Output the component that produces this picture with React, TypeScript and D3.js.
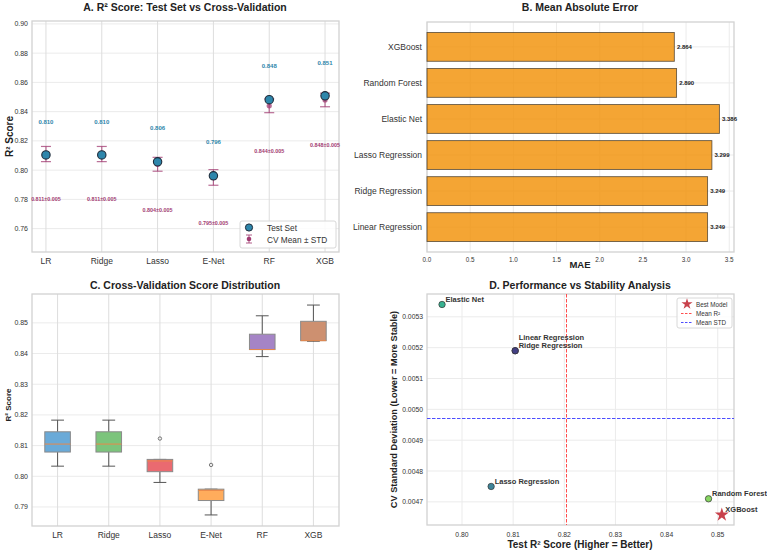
import * as d3 from "d3";

const W = 767;
const H = 551;
const FONT = "'Liberation Sans', Arial, sans-serif";

// model metrics
const models = [
  "Linear Regression",
  "Ridge Regression",
  "Lasso Regression",
  "Elastic Net",
  "Random Forest",
  "XGBoost",
];
const shortNames = ["LR", "Ridge", "Lasso", "E-Net", "RF", "XGB"];
const testR2 = [0.8104, 0.8104, 0.8057, 0.7961, 0.8482, 0.8508];
const cvMean = [0.811, 0.811, 0.804, 0.795, 0.844, 0.848];
const cvStd = [0.00519, 0.00519, 0.00475, 0.00534, 0.00471, 0.004658];
const mae = [3.249, 3.249, 3.299, 3.386, 2.89, 2.864];

// per-fold CV scores (5 folds)
const foldsLR = [0.8033, 0.8079, 0.8105, 0.8145, 0.8183];
const foldsRidge = [0.8033, 0.8079, 0.8105, 0.8145, 0.8183];
const foldsLasso = [0.798, 0.8015, 0.805, 0.8055, 0.8123];
const foldsENet = [0.7874, 0.7921, 0.7954, 0.7958, 0.8037];
const foldsRF = [0.839, 0.8413, 0.8413, 0.8463, 0.8523];
const foldsXGB = [0.844, 0.8442, 0.8442, 0.8505, 0.8558];
const cvFolds = [foldsLR, foldsRidge, foldsLasso, foldsENet, foldsRF, foldsXGB];

const boxColors = ["#6aaad8", "#7cc47c", "#ea6a70", "#ffac5c", "#a584c6", "#cd9070"];

const r2Ticks = d3.range(8).map((i) => 0.76 + i * 0.02);
const maeTicks = d3.range(8).map((i) => i * 0.5);
const boxTicks = d3.range(7).map((i) => 0.79 + i * 0.01);
const stdTicks = d3.range(7).map((i) => 0.0047 + i * 0.0001);
const scatterXTicks = d3.range(6).map((i) => 0.8 + i * 0.01);

const BLUE = "#2E86AB";
const MAGENTA = "#A23B72";
const GRID = "#ebebeb";
const GRID_V = "#dddddd";
const SPINE = "#d2d2d2";
const TICK = "#333";
const RED_LINE = "#ff4d4d";
const BLUE_LINE = "#4d4dff";

type Box = { x0: number; x1: number; y0: number; y1: number };

const Frame = ({ b }: { b: Box }) => (
  <rect x={b.x0} y={b.y0} width={b.x1 - b.x0} height={b.y1 - b.y0} fill="none" stroke={SPINE} strokeWidth={1.3} />
);

const Title = ({ x, y, text }: { x: number; y: number; text: string }) => (
  <text x={x} y={y} textAnchor="middle" fontSize={10.5} fontWeight="bold" fill="#222" dominantBaseline="central">
    {text}
  </text>
);

// ---------- A: test R² vs CV ----------
const PanelA = () => {
  const b: Box = { x0: 32, x1: 339, y0: 21, y1: 252 };
  const x = d3.scaleLinear().domain([-0.25, 5.25]).range([b.x0, b.x1]);
  const y = d3.scaleLinear().domain([0.744, 0.902]).range([b.y1, b.y0]);
  return (
    <g>
      <Title x={185} y={7} text="A. R² Score: Test Set vs Cross-Validation" />
      {r2Ticks.map((t) => (
        <g key={t}>
          <line x1={b.x0} x2={b.x1} y1={y(t)} y2={y(t)} stroke={GRID} />
          <text x={b.x0 - 4} y={y(t)} textAnchor="end" dominantBaseline="central" fontSize={7} fill={TICK}>
            {t.toFixed(2)}
          </text>
        </g>
      ))}
      {shortNames.map((s, i) => (
        <g key={s}>
          <line x1={x(i)} x2={x(i)} y1={b.y0} y2={b.y1} stroke={GRID_V} />
          <text x={x(i)} y={b.y1 + 9} textAnchor="middle" dominantBaseline="central" fontSize={8.5} fill={TICK}>
            {s}
          </text>
        </g>
      ))}
      <Frame b={b} />
      <text
        transform={`translate(9,${(b.y0 + b.y1) / 2}) rotate(-90)`}
        textAnchor="middle"
        dominantBaseline="central"
        fontSize={10}
        fontWeight="bold"
        fill="#222"
      >
        R² Score
      </text>
      {/* CV mean ± std */}
      {cvMean.map((m, i) => {
        const lo = y(m - cvStd[i]);
        const hi = y(m + cvStd[i]);
        return (
          <g key={"cv" + i} stroke={MAGENTA} strokeOpacity={0.75} strokeWidth={1.2}>
            <line x1={x(i)} x2={x(i)} y1={lo} y2={hi} />
            <line x1={x(i) - 5} x2={x(i) + 5} y1={lo} y2={lo} />
            <line x1={x(i) - 5} x2={x(i) + 5} y1={hi} y2={hi} />
            <circle cx={x(i)} cy={y(m)} r={2.6} fill={MAGENTA} fillOpacity={0.75} stroke="none" />
          </g>
        );
      })}
      {testR2.map((v, i) => (
        <circle key={"t" + i} cx={x(i)} cy={y(v)} r={4.2} fill={BLUE} stroke="#1d2b3a" strokeWidth={1.1} />
      ))}
      {testR2.map((v, i) => (
        <text
          key={"tl" + i}
          x={x(i)}
          y={y(v + 0.0228)}
          textAnchor="middle"
          dominantBaseline="central"
          fontSize={6}
          fontWeight="bold"
          fill={BLUE}
        >
          {v.toFixed(3)}
        </text>
      ))}
      {cvMean.map((m, i) => (
        <text
          key={"cl" + i}
          x={x(i)}
          y={y(m - 0.031)}
          textAnchor="middle"
          dominantBaseline="central"
          fontSize={5.4}
          fontWeight="bold"
          fill={MAGENTA}
        >
          {`${m.toFixed(3)}±${cvStd[i].toFixed(3)}`}
        </text>
      ))}
      {/* legend */}
      <g>
        <rect x={240} y={221} width={96} height={27} rx={2} fill="white" fillOpacity={0.85} stroke="#d8d8d8" />
        <circle cx={249} cy={227.5} r={3.6} fill={BLUE} stroke="#1d2b3a" strokeWidth={1} />
        <text x={267} y={227.5} dominantBaseline="central" fontSize={8.3} fill={TICK}>
          Test Set
        </text>
        <g stroke={MAGENTA} strokeOpacity={0.75} strokeWidth={1.1}>
          <line x1={249} x2={249} y1={235} y2={243} />
          <line x1={246} x2={252} y1={235} y2={235} />
          <line x1={246} x2={252} y1={243} y2={243} />
          <circle cx={249} cy={239} r={2.3} fill={MAGENTA} stroke="none" />
        </g>
        <text x={267} y={239.5} dominantBaseline="central" fontSize={8.3} fill={TICK}>
          CV Mean ± STD
        </text>
      </g>
    </g>
  );
};

// ---------- B: MAE bars ----------
const PanelB = () => {
  const b: Box = { x0: 427, x1: 734, y0: 22, y1: 252 };
  const x = d3.scaleLinear().domain([0, 3.555]).range([b.x0, b.x1]);
  const y = d3.scaleLinear().domain([-0.69, 5.69]).range([b.y1, b.y0]);
  const half = 0.4;
  return (
    <g>
      <Title x={580} y={7} text="B. Mean Absolute Error" />
      {maeTicks.map((t) => (
        <g key={t}>
          <line x1={x(t)} x2={x(t)} y1={b.y0} y2={b.y1} stroke={GRID} />
          <text x={x(t)} y={b.y1 + 7} textAnchor="middle" dominantBaseline="central" fontSize={6.3} fill={TICK}>
            {t.toFixed(1)}
          </text>
        </g>
      ))}
      {models.map((m, i) => (
        <g key={m}>
          <line x1={b.x0} x2={b.x1} y1={y(i)} y2={y(i)} stroke={GRID} />
          <text x={b.x0 - 5} y={y(i)} textAnchor="end" dominantBaseline="central" fontSize={8.5} fill={TICK}>
            {m}
          </text>
        </g>
      ))}
      <Frame b={b} />
      {mae.map((v, i) => (
        <g key={"b" + i}>
          <rect
            x={x(0)}
            y={y(i + half)}
            width={x(v) - x(0)}
            height={y(i - half) - y(i + half)}
            fill="#F18F01"
            fillOpacity={0.8}
            stroke="#3a3226"
            strokeOpacity={0.75}
            strokeWidth={0.9}
          />
          <text x={x(v + 0.03)} y={y(i)} dominantBaseline="central" fontSize={6} fontWeight="bold" fill="#222">
            {v.toFixed(3)}
          </text>
        </g>
      ))}
      <text x={580} y={264} textAnchor="middle" dominantBaseline="central" fontSize={9.5} fontWeight="bold" fill="#222">
        MAE
      </text>
    </g>
  );
};

// ---------- C: CV box plots ----------
const boxStats = (vals: number[]) => {
  const s = [...vals].sort(d3.ascending);
  const q1 = d3.quantile(s, 0.25) as number;
  const med = d3.quantile(s, 0.5) as number;
  const q3 = d3.quantile(s, 0.75) as number;
  const iqr = q3 - q1;
  const inside = s.filter((v) => v >= q1 - 1.5 * iqr - 1e-12 && v <= q3 + 1.5 * iqr + 1e-12);
  return {
    q1,
    med,
    q3,
    lo: d3.min(inside) as number,
    hi: d3.max(inside) as number,
    outliers: s.filter((v) => !inside.includes(v)),
  };
};

const PanelC = () => {
  const b: Box = { x0: 32, x1: 339, y0: 294, y1: 526 };
  const x = d3.scaleLinear().domain([0.5, 6.5]).range([b.x0, b.x1]);
  const y = d3.scaleLinear().domain([0.7838, 0.8594]).range([b.y1, b.y0]);
  const bw = 0.25;
  const cw = 0.125;
  return (
    <g>
      <Title x={185} y={285} text="C. Cross-Validation Score Distribution" />
      {boxTicks.map((t) => (
        <g key={t}>
          <line x1={b.x0} x2={b.x1} y1={y(t)} y2={y(t)} stroke={GRID} />
          <text x={b.x0 - 4} y={y(t)} textAnchor="end" dominantBaseline="central" fontSize={7} fill={TICK}>
            {t.toFixed(2)}
          </text>
        </g>
      ))}
      {shortNames.map((s, i) => (
        <g key={s}>
          <line x1={x(i + 1)} x2={x(i + 1)} y1={b.y0} y2={b.y1} stroke={GRID_V} />
          <text x={x(i + 1)} y={b.y1 + 9} textAnchor="middle" dominantBaseline="central" fontSize={8.5} fill={TICK}>
            {s}
          </text>
        </g>
      ))}
      <Frame b={b} />
      <text
        transform={`translate(8,${(b.y0 + b.y1) / 2 - 5}) rotate(-90)`}
        textAnchor="middle"
        dominantBaseline="central"
        fontSize={8}
        fontWeight="bold"
        fill="#222"
      >
        R² Score
      </text>
      {cvFolds.map((f, i) => {
        const st = boxStats(f);
        const cx = x(i + 1);
        return (
          <g key={"box" + i}>
            <g stroke="#555" strokeWidth={1}>
              <line x1={cx} x2={cx} y1={y(st.q3)} y2={y(st.hi)} />
              <line x1={cx} x2={cx} y1={y(st.q1)} y2={y(st.lo)} />
              <line x1={x(i + 1 - cw)} x2={x(i + 1 + cw)} y1={y(st.hi)} y2={y(st.hi)} />
              <line x1={x(i + 1 - cw)} x2={x(i + 1 + cw)} y1={y(st.lo)} y2={y(st.lo)} />
            </g>
            <rect
              x={x(i + 1 - bw)}
              y={y(st.q3)}
              width={x(i + 1 + bw) - x(i + 1 - bw)}
              height={y(st.q1) - y(st.q3)}
              fill={boxColors[i]}
              stroke="#8a8a8a"
              strokeWidth={1}
            />
            <line
              x1={x(i + 1 - bw)}
              x2={x(i + 1 + bw)}
              y1={y(st.med)}
              y2={y(st.med)}
              stroke="#e8884a"
              strokeWidth={1}
            />
            {st.outliers.map((o, k) => (
              <circle key={k} cx={cx} cy={y(o)} r={1.7} fill="none" stroke="#555" strokeWidth={0.8} />
            ))}
          </g>
        );
      })}
    </g>
  );
};

// ---------- D: performance vs stability ----------
const PanelD = () => {
  const b: Box = { x0: 427, x1: 734, y0: 294, y1: 525 };
  const x = d3.scaleLinear().domain([0.79316, 0.85318]).range([b.x0, b.x1]);
  const y = d3.scaleLinear().domain([0.004625, 0.005374]).range([b.y1, b.y0]);
  const meanR2 = d3.mean(testR2) as number;
  const meanStd = d3.mean(cvStd) as number;
  const best = d3.maxIndex(testR2);
  const starBig = d3.symbol(d3.symbolStar, 60)() as string;
  const starSmall = d3.symbol(d3.symbolStar, 38)() as string;
  const color = (i: number) => d3.interpolateViridis(i / (models.length - 1));
  const mx = Math.round(x(meanR2)) + 0.5;
  const my = Math.round(y(meanStd)) + 0.5;
  return (
    <g>
      <Title x={580} y={285} text="D. Performance vs Stability Analysis" />
      {stdTicks.map((t) => (
        <g key={t}>
          <line x1={b.x0} x2={b.x1} y1={y(t)} y2={y(t)} stroke={GRID} />
          <text x={b.x0 - 4} y={y(t)} textAnchor="end" dominantBaseline="central" fontSize={6.8} fill={TICK}>
            {t.toFixed(4)}
          </text>
        </g>
      ))}
      {scatterXTicks.map((t) => (
        <g key={t}>
          <line x1={x(t)} x2={x(t)} y1={b.y0} y2={b.y1} stroke={GRID} />
          <text x={x(t)} y={b.y1 + 9} textAnchor="middle" dominantBaseline="central" fontSize={6.8} fill={TICK}>
            {t.toFixed(2)}
          </text>
        </g>
      ))}
      <Frame b={b} />
      <text x={580} y={544} textAnchor="middle" dominantBaseline="central" fontSize={10} fontWeight="bold" fill="#222">
        Test R² Score (Higher = Better)
      </text>
      <text
        transform={`translate(394,${(b.y0 + b.y1) / 2}) rotate(-90)`}
        textAnchor="middle"
        dominantBaseline="central"
        fontSize={9.2}
        fontWeight="bold"
        fill="#222"
      >
        CV Standard Deviation (Lower = More Stable)
      </text>
      <line x1={mx} x2={mx} y1={b.y0} y2={b.y1} stroke={RED_LINE} strokeDasharray="3.5,1.5" strokeWidth={1} />
      <line x1={b.x0} x2={b.x1} y1={my} y2={my} stroke={BLUE_LINE} strokeDasharray="3.5,1.5" strokeWidth={1} />
      {models.map((m, i) =>
        i === best ? null : (
          <circle key={m} cx={x(testR2[i])} cy={y(cvStd[i])} r={3.2} fill={color(i)} fillOpacity={0.9} stroke="#333" strokeWidth={0.7} />
        )
      )}
      <path d={starBig} transform={`translate(${x(testR2[best])},${y(cvStd[best])})`} fill="#c8414b" />
      {models.map((m, i) => {
        // stack labels of models that share the same point
        const stack = models.filter((_, k) => k > i && testR2[k] === testR2[i] && cvStd[k] === cvStd[i]).length;
        return (
          <text
            key={"l" + m}
            x={x(testR2[i]) + 3.5}
            y={y(cvStd[i]) - 5 - stack * 8}
            dominantBaseline="central"
            fontSize={7.5}
            fontWeight="bold"
            fill="#333"
          >
            {m}
          </text>
        );
      })}
      {/* legend */}
      <g>
        <rect x={677} y={298} width={55} height={30} rx={2} fill="white" fillOpacity={0.85} stroke="#d8d8d8" />
        <path d={starSmall} transform="translate(687,304)" fill="#c8414b" />
        <line x1={681} x2={693} y1={313.5} y2={313.5} stroke={RED_LINE} strokeDasharray="2.5,1.5" />
        <line x1={681} x2={693} y1={322.5} y2={322.5} stroke={BLUE_LINE} strokeDasharray="2.5,1.5" />
        <text x={696} y={304} dominantBaseline="central" fontSize={6.3} fill={TICK}>
          Best Model
        </text>
        <text x={696} y={313} dominantBaseline="central" fontSize={6.3} fill={TICK}>
          Mean R²
        </text>
        <text x={696} y={322} dominantBaseline="central" fontSize={6.3} fill={TICK}>
          Mean STD
        </text>
      </g>
    </g>
  );
};

export default function App() {
  return (
    <div style={{ position: "fixed", left: 0, top: 0 }}>
      <svg width={W} height={H} fontFamily={FONT} style={{ display: "block", background: "white" }}>
        <rect width={W} height={H} fill="white" />
        <PanelA />
        <PanelB />
        <PanelC />
        <PanelD />
      </svg>
    </div>
  );
}
